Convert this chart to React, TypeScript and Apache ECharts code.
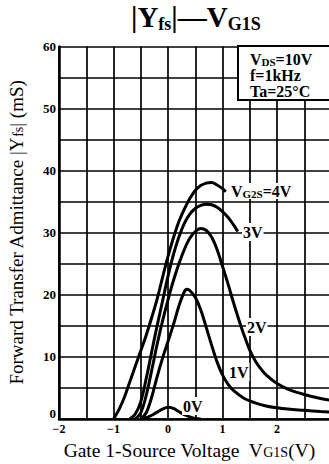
import React, { useEffect, useRef } from "react";
import * as echarts from "echarts";

// ---- data ----
const vgs4V = [-1.0, -0.9, -0.8, -0.7, -0.6, -0.5, -0.4, -0.3, -0.2, -0.1, 0, 0.1, 0.2, 0.3, 0.4, 0.5, 0.6, 0.7, 0.8, 0.9, 1.0, 1.06];
const yfs4V = [0, 1.5, 3.5, 6, 8.5, 11, 13.5, 16.3, 19.3, 22.8, 26.2, 29.2, 31.8, 33.8, 35.5, 36.8, 37.6, 38.0, 38.1, 37.7, 37.1, 36.6];

const vgs3V = [-0.7, -0.6, -0.5, -0.4, -0.3, -0.2, -0.1, 0, 0.1, 0.2, 0.3, 0.4, 0.5, 0.6, 0.7, 0.8, 0.9, 1.0, 1.1, 1.2, 1.28];
const yfs3V = [0, 0.8, 2.8, 6.5, 10.8, 15, 19, 23, 26.5, 29.3, 31.5, 33, 33.9, 34.4, 34.6, 34.5, 34.1, 33.4, 32.5, 31.3, 30.2];

const vgs2V = [-0.6, -0.5, -0.4, -0.3, -0.2, -0.1, 0, 0.1, 0.2, 0.3, 0.4, 0.5, 0.6, 0.7, 0.8, 0.9, 1.0, 1.1, 1.2, 1.3, 1.4, 1.5, 1.6, 1.7, 1.8, 2.0, 2.2, 2.4, 2.6, 2.8, 3.0];
const yfs2V = [0, 1, 3.8, 7.8, 12, 15.8, 19.2, 22.3, 25, 27.3, 29.1, 30.2, 30.7, 30.4, 29.3, 27.3, 24.6, 21.8, 18.8, 16, 13.4, 11.1, 9.4, 8.1, 7.1, 5.7, 4.8, 4.2, 3.7, 3.3, 3.0];

const vgs1V = [-0.5, -0.4, -0.3, -0.2, -0.1, 0, 0.1, 0.2, 0.3, 0.35, 0.4, 0.5, 0.6, 0.7, 0.8, 0.9, 1.0, 1.1, 1.2, 1.4, 1.6, 1.8, 2.0, 2.2, 2.5, 2.8, 3.0];
const yfs1V = [0, 1, 3.5, 6.8, 9.8, 12.5, 15.2, 18.2, 20.5, 20.9, 20.7, 19.6, 17.6, 14.8, 11.9, 9.2, 7.1, 5.6, 4.6, 3.3, 2.6, 2.1, 1.8, 1.6, 1.4, 1.2, 1.1];

const vgs0V = [-0.5, -0.4, -0.3, -0.2, -0.1, 0, 0.1, 0.2, 0.3, 0.4, 0.5, 0.6];
const yfs0V = [0, 0.2, 0.6, 1.1, 1.6, 1.9, 1.7, 1.2, 0.7, 0.35, 0.1, 0];

const xLabelValues = [-2, -1, 0, 1, 2];
const yLabelValues = [0, 10, 20, 30, 40, 50, 60];

const SERIF = "'Liberation Serif', 'DejaVu Serif', serif";

function zip(xs: number[], ys: number[]) {
  return xs.map((x, i) => [x, ys[i]]);
}

export default function App() {
  const ref = useRef<HTMLDivElement>(null);

  useEffect(() => {
    if (!ref.current) return;
    const chart = echarts.init(ref.current, undefined, { renderer: "svg" });

    const curves = [
      { name: "4V", x: vgs4V, y: yfs4V },
      { name: "3V", x: vgs3V, y: yfs3V },
      { name: "2V", x: vgs2V, y: yfs2V },
      { name: "1V", x: vgs1V, y: yfs1V },
      { name: "0V", x: vgs0V, y: yfs0V },
    ];

    const labelFont = {
      fontFamily: SERIF,
      fontWeight: "bold" as const,
      fontSize: 16,
      fill: "#000",
    };

    chart.setOption({
      animation: false,
      backgroundColor: "#fff",
      title: {
        text: "{b||Y}{s|fs}{b||—V}{s|G1S}",
        left: 131,
        top: 1,
        padding: 0,
        textStyle: {
          rich: {
            b: { fontFamily: SERIF, fontWeight: "bold", fontSize: 29, lineHeight: 32, color: "#000" },
            s: { fontFamily: SERIF, fontWeight: "bold", fontSize: 18, lineHeight: 19, color: "#000", verticalAlign: "bottom" },
          },
        },
      },
      grid: {
        left: 59,
        top: 46.5,
        width: 272.5,
        height: 372.5,
        outerBoundsMode: "none",
        containLabel: false,
      },
      xAxis: {
        type: "value",
        min: -2,
        max: 3,
        interval: 0.5,
        name: "Gate 1-Source Voltage  V{s|G1S}(V)",
        nameLocation: "middle",
        nameGap: 21,
        nameTextStyle: {
          fontFamily: SERIF,
          fontSize: 19.5,
          color: "#000",
          padding: [0, 0, 0, -12],
          rich: {
            s: { fontFamily: SERIF, fontSize: 14, color: "#000", padding: [4, 0, 0, 0] },
          },
        },
        axisLine: { show: true, onZero: false, lineStyle: { color: "#000", width: 2.5 } },
        axisTick: { show: false },
        splitLine: { show: true, lineStyle: { color: "#000", width: 1.7 } },
        axisLabel: {
          margin: 4,
          fontFamily: SERIF,
          fontWeight: "bold",
          fontSize: 12,
          color: "#000",
          formatter: (v: number) =>
            xLabelValues.includes(v) ? (v < 0 ? "\u2212" + Math.abs(v) : String(v)) : "",
        },
      },
      yAxis: {
        type: "value",
        min: 0,
        max: 60,
        interval: 5,
        name: "Forward Transfer Admittance |Y{s|fs}| (mS)",
        nameLocation: "middle",
        nameRotate: 90,
        nameGap: 33,
        nameTextStyle: {
          fontFamily: SERIF,
          fontSize: 19,
          color: "#000",
          padding: [0, 0, 0, 0],
          rich: {
            s: { fontFamily: SERIF, fontSize: 14, color: "#000", padding: [4, 0, 0, 0] },
          },
        },
        axisLine: { show: true, onZero: false, lineStyle: { color: "#000", width: 2.5 } },
        axisTick: { show: false },
        splitLine: { show: true, lineStyle: { color: "#000", width: 1.7 } },
        axisLabel: {
          margin: 3,
          fontFamily: SERIF,
          fontWeight: "bold",
          fontSize: 13,
          color: "#000",
          formatter: (v: number) =>
            v === 0 ? "{z|0}" : yLabelValues.includes(v) ? String(v) : "",
          rich: {
            z: { fontFamily: SERIF, fontWeight: "bold", fontSize: 13, color: "#000", padding: [0, 0, 12, 0] },
          },
        },
      },
      series: curves.map((c) => ({
        type: "line",
        name: c.name,
        data: zip(c.x, c.y),
        showSymbol: false,
        symbol: "none",
        smooth: 0.35,
        lineStyle: { color: "#000", width: 3 },
        z: 5,
      })),
      graphic: [
        {
          type: "rect",
          z: 100,
          shape: { x: 238, y: 46, width: 100, height: 54 },
          style: { fill: "#fff", stroke: "#000", lineWidth: 2 },
        },
        {
          type: "text",
          z: 101,
          x: 250,
          y: 51,
          style: {
            text: "{m|V}{s|DS}{m|=10V}\n{m|f=1kHz}\n{m|Ta=25°C}",
            rich: {
              m: { ...labelFont, lineHeight: 16 },
              s: { ...labelFont, fontSize: 11, lineHeight: 12, verticalAlign: "bottom" },
            },
          },
        },
        {
          type: "text",
          z: 101,
          x: 231,
          y: 183,
          style: {
            text: "{m|V}{s|G2S}{m|=4V}",
            backgroundColor: "#fff",
            rich: {
              m: { ...labelFont, lineHeight: 16 },
              s: { ...labelFont, fontSize: 11, lineHeight: 12, verticalAlign: "bottom" },
            },
          },
        },
        {
          type: "text",
          z: 101,
          x: 242,
          y: 223,
          style: { text: "3V", ...labelFont, backgroundColor: "#fff", padding: [1, 1, 1, 1] },
        },
        {
          type: "text",
          z: 101,
          x: 246,
          y: 318,
          style: { text: "2V", ...labelFont, backgroundColor: "#fff", padding: [1, 1, 1, 1] },
        },
        {
          type: "text",
          z: 101,
          x: 228,
          y: 363,
          style: { text: "1V", ...labelFont, backgroundColor: "#fff", padding: [1, 1, 1, 1] },
        },
        {
          type: "text",
          z: 101,
          x: 182,
          y: 397,
          style: { text: "0V", ...labelFont, backgroundColor: "#fff", padding: [1, 1, 1, 1] },
        },
      ],
    });

    return () => chart.dispose();
  }, []);

  return (
    <div
      ref={ref}
      style={{ position: "fixed", left: 0, top: 0, width: 329, height: 464, background: "#fff" }}
    />
  );
}
